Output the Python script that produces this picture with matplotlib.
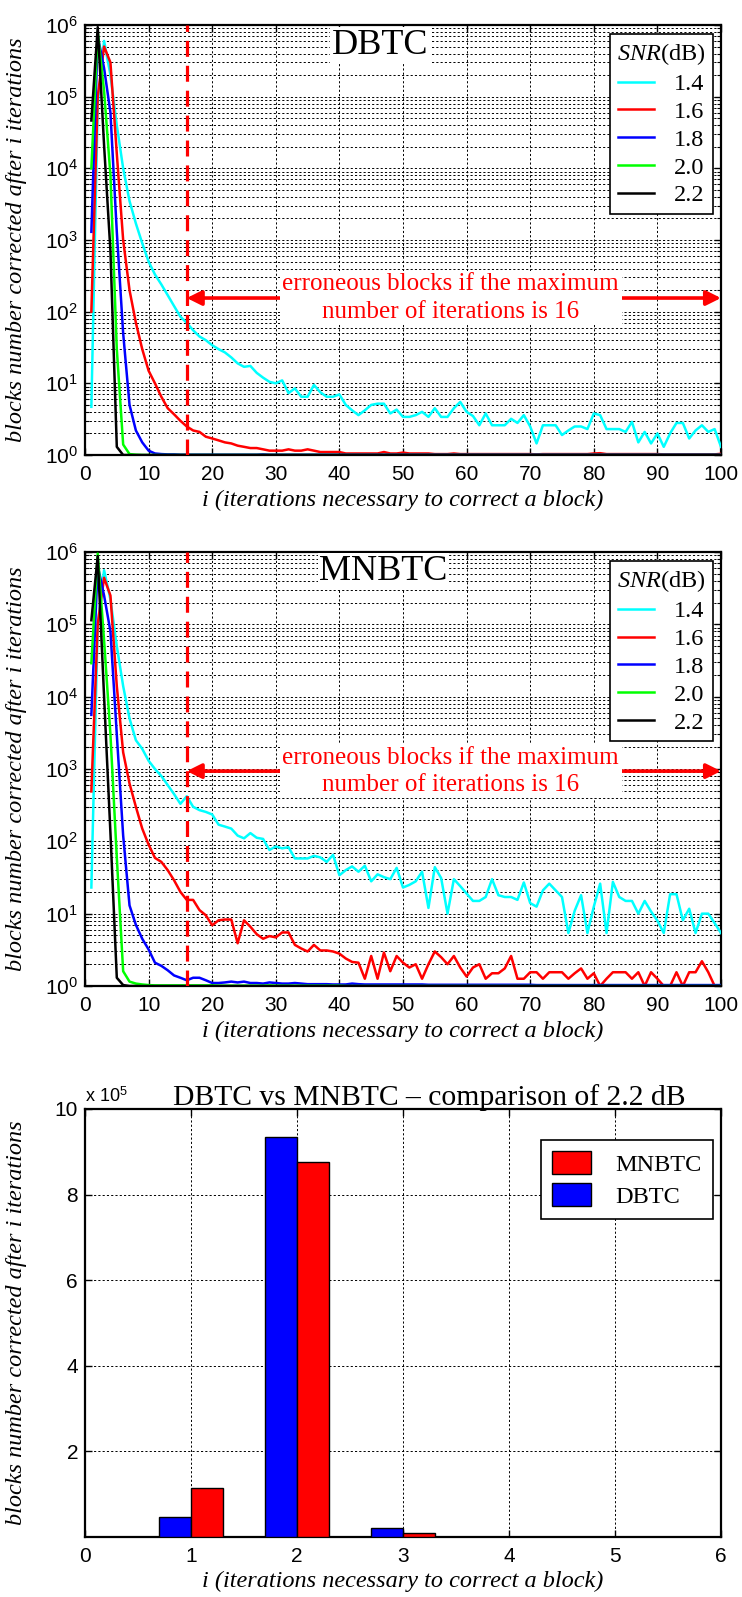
import numpy as np
import matplotlib
matplotlib.use("Agg")
import matplotlib.pyplot as plt
from matplotlib.ticker import LogLocator, NullFormatter, FixedLocator

plt.rcParams['font.family'] = ['Liberation Sans Narrow', 'Liberation Sans', 'DejaVu Sans']
plt.rcParams['mathtext.fontset'] = 'custom'
plt.rcParams['mathtext.rm'] = 'Liberation Sans'
plt.rcParams['mathtext.it'] = 'Liberation Serif:italic'
plt.rcParams['mathtext.bf'] = 'Liberation Sans:bold'

# ---------------- data ----------------
snr_labels = ['1.4', '1.6', '1.8', '2.0', '2.2']
snr_colors = ['#00ffff', '#ff0000', '#0000ff', '#00ff00', '#000000']

# DBTC: blocks corrected after i iterations, i = 1..100
dbtc_14 = [4.7, 8e4, 6e5, 2e5, 4e4, 1e4, 3.5e3, 1.7e3, 900, 500,
           330, 240, 170, 120, 85, 70, 55, 45, 40, 34,
           30, 27, 23, 19, 17, 17.5, 14, 12, 10.5, 10,
           11, 7.3, 8.5, 6.5, 6.5, 9.5, 7.5, 6.5, 6.5, 7,
           5, 4.2, 3.6, 4.2, 5, 5.2, 5.2, 3.8, 4.3, 3.4,
           3.4, 3.6, 4, 3.4, 4.5, 3.4, 3.4, 4.5, 5.5, 4,
           3.5, 2.6, 3.8, 2.6, 2.6, 2.6, 3.2, 2.8, 3.6, 2.5,
           1.45, 2.6, 2.6, 2.6, 1.9, 2.2, 2.5, 2.5, 2.3, 3.8,
           3.6, 2.3, 2.3, 2.3, 2.1, 2.9, 1.5, 2.1, 1.45, 2.0,
           1.3, 2.0, 2.8, 2.8, 1.7, 2.2, 2.6, 2.1, 2.3, 1.3]
dbtc_16 = [100, 1e5, 5e5, 3e5, 1.6e4, 1e3, 200, 70, 30, 15,
           10, 6.5, 4.5, 3.7, 3.0, 2.5, 2.2, 2.1, 1.8, 1.7,
           1.6, 1.5, 1.45, 1.35, 1.3, 1.25, 1.25, 1.2, 1.15, 1.15,
           1.15, 1.2, 1.15, 1.15, 1.2, 1.15, 1.1, 1.1, 1.1, 1.1,
           1.05, 1.05, 1.05, 1.05, 1.05, 1.05, 1.1, 1.05, 1.05, 1.08,
           1.05, 1.05, 1.05, 1.05, 1.03, 1.03, 1.03, 1.05, 1.03, 1.03,
           1.03, 1.03, 1.03, 1.03, 1.03, 1.03, 1.03, 1.03, 1.03, 1.03,
           1.02, 1.03, 1.03, 1.03, 1.03, 1.03, 1.03, 1.03, 1.03, 1.05,
           1.06, 1.03, 1.03, 1.03, 1.03, 1.03, 1.03, 1.03, 1.03, 1.03,
           1.02, 1.02, 1.02, 1.02, 1.02, 1.02, 1.02, 1.02, 1.02, 1.04]
dbtc_18 = [1.3e3, 7e5, 2.5e5, 6e4, 1.3e3, 50, 5, 2.2, 1.5, 1.15,
           1.05, 1.03, 1.02, 1.02, 1.01, 1.01, 1.01, 1.01, 1.01, 1.01,
           1.01, 1.01, 1.01, 1.01, 1.01, 1.01, 1.01, 1.02, 1.01, 1.01,
           1.01, 1.01, 1.01, 1.01, 1.01, 1.01, 1.01, 1.01, 1.01, 1.01,
           1.01, 1.01, 1.01, 1.01, 1.01, 1.01, 1.01, 1.01, 1.01, 1.01,
           1.01, 1.01, 1.01, 1.01, 1.01, 1.01, 1.01, 1.01, 1.01, 1.01,
           1.01, 1.01, 1.01, 1.01, 1.01, 1.01, 1.01, 1.01, 1.01, 1.01,
           1.01, 1.01, 1.01, 1.01, 1.01, 1.01, 1.01, 1.01, 1.01, 1.01,
           1.01, 1.01, 1.01, 1.01, 1.01, 1.01, 1.01, 1.01, 1.01, 1.01,
           1.01, 1.01, 1.01, 1.01, 1.01, 1.01, 1.01, 1.01, 1.01, 1.01]
dbtc_20 = [1e4, 8e5, 1.2e5, 8e3, 30, 1.4, 1.03, 1.01, 1.0, 1.0,
           1.0, 1.0, 1.0, 1.0, 1.0, 1.0, 1.0, 1.0, 1.0, 1.0,
           1.0, 1.0, 1.0, 1.0, 1.0, 1.0, 1.0, 1.0, 1.0, 1.0,
           1.0, 1.0, 1.0, 1.0, 1.0, 1.0, 1.0, 1.0, 1.0, 1.0,
           1.0, 1.0, 1.0, 1.0, 1.0, 1.0, 1.0, 1.0, 1.0, 1.0,
           1.0, 1.0, 1.0, 1.0, 1.0, 1.0, 1.0, 1.0, 1.0, 1.0,
           1.0, 1.0, 1.0, 1.0, 1.0, 1.0, 1.0, 1.0, 1.0, 1.0,
           1.0, 1.0, 1.0, 1.0, 1.0, 1.0, 1.0, 1.0, 1.0, 1.0,
           1.0, 1.0, 1.0, 1.0, 1.0, 1.0, 1.0, 1.0, 1.0, 1.0,
           1.0, 1.0, 1.0, 1.0, 1.0, 1.0, 1.0, 1.0, 1.0, 1.0]
dbtc_22 = [4.65e4, 9.35e5, 2.1e4, 700, 1.3, 1.0, 1.0, 1.0, 1.0, 1.0,
           1.0, 1.0, 1.0, 1.0, 1.0, 1.0, 1.0, 1.0, 1.0, 1.0,
           1.0, 1.0, 1.0, 1.0, 1.0, 1.0, 1.0, 1.0, 1.0, 1.0,
           1.0, 1.0, 1.0, 1.0, 1.0, 1.0, 1.0, 1.0, 1.0, 1.0,
           1.0, 1.0, 1.0, 1.0, 1.0, 1.0, 1.0, 1.0, 1.0, 1.0,
           1.0, 1.0, 1.0, 1.0, 1.0, 1.0, 1.0, 1.0, 1.0, 1.0,
           1.0, 1.0, 1.0, 1.0, 1.0, 1.0, 1.0, 1.0, 1.0, 1.0,
           1.0, 1.0, 1.0, 1.0, 1.0, 1.0, 1.0, 1.0, 1.0, 1.0,
           1.0, 1.0, 1.0, 1.0, 1.0, 1.0, 1.0, 1.0, 1.0, 1.0,
           1.0, 1.0, 1.0, 1.0, 1.0, 1.0, 1.0, 1.0, 1.0, 1.0]

# MNBTC
mnbtc_14 = [23, 1e5, 5.6e5, 2.2e5, 5e4, 1.4e4, 5e3, 2.5e3, 1.9e3, 1.3e3,
            1e3, 800, 600, 450, 330, 420, 300, 270, 255, 235,
            170, 160, 150, 120, 110, 130, 112, 108, 76, 85,
            80, 83, 58, 58, 58, 63, 60, 52, 65, 34,
            40, 45, 38, 46, 28, 35, 32, 30, 43, 23,
            25, 28, 38, 12, 44, 31, 10, 30, 24, 19,
            15, 15, 17, 30, 18, 17, 17, 15.5, 27, 14,
            12.5, 21, 26, 21, 17, 5.4, 11, 18, 5.4, 12.5,
            26, 5.4, 27.5, 17, 15, 15, 10, 15, 10.7, 8,
            5.4, 18.6, 18.6, 8.1, 11.7, 5.4, 10, 10, 7.4, 5.4]
mnbtc_16 = [490, 1e5, 4.4e5, 2.5e5, 1.4e4, 1.7e3, 630, 300, 150, 90,
            59, 52, 40, 29, 20, 15.5, 15.5, 11.2, 9.5, 6.9,
            8.1, 8.3, 8.3, 3.9, 8.1, 6.6, 5.2, 4.5, 4.9, 4.7,
            5.5, 5.5, 3.7, 3.3, 3.0, 3.7, 3.1, 3.1, 3.0, 2.8,
            2.4, 2.15, 2.1, 1.26, 2.6, 1.26, 2.9, 1.6, 2.6, 2.1,
            1.8, 2.0, 1.26, 2.0, 3.0, 2.5, 2.0, 2.6, 1.8, 1.35,
            1.8, 2.0, 1.26, 1.5, 1.5, 1.75, 2.6, 1.26, 1.26, 1.55,
            1.55, 1.26, 1.55, 1.55, 1.55, 1.26, 1.5, 1.75, 1.26, 1.5,
            1.0, 1.26, 1.55, 1.55, 1.55, 1.26, 1.55, 1.0, 1.55, 1.26,
            1.0, 1.0, 1.55, 1.0, 1.55, 1.55, 2.2, 1.55, 1.0, 1.0]
mnbtc_18 = [5.6e3, 6.5e5, 2.5e5, 8e4, 3e3, 120, 13, 7, 4.5, 3.2,
            2.1, 1.9, 1.65, 1.4, 1.3, 1.2, 1.3, 1.3, 1.2, 1.1,
            1.1, 1.12, 1.15, 1.12, 1.15, 1.1, 1.1, 1.08, 1.12, 1.1,
            1.08, 1.08, 1.1, 1.08, 1.06, 1.06, 1.06, 1.06, 1.05, 1.05,
            1.05, 1.08, 1.06, 1.05, 1.05, 1.05, 1.05, 1.05, 1.05, 1.05,
            1.05, 1.05, 1.05, 1.04, 1.04, 1.04, 1.04, 1.04, 1.04, 1.04,
            1.04, 1.04, 1.04, 1.04, 1.04, 1.04, 1.04, 1.04, 1.04, 1.04,
            1.03, 1.03, 1.03, 1.03, 1.03, 1.03, 1.03, 1.03, 1.03, 1.03,
            1.03, 1.03, 1.03, 1.03, 1.03, 1.03, 1.03, 1.03, 1.03, 1.03,
            1.03, 1.03, 1.03, 1.03, 1.03, 1.03, 1.03, 1.03, 1.03, 1.03]
mnbtc_20 = [2.9e4, 9.5e5, 6e4, 3e3, 60, 1.6, 1.15, 1.08, 1.05, 1.03,
            1.02, 1.02, 1.02, 1.02, 1.02, 1.02, 1.02, 1.02, 1.02, 1.02,
            1.01, 1.01, 1.01, 1.01, 1.01, 1.01, 1.01, 1.01, 1.02, 1.01,
            1.01, 1.01, 1.01, 1.01, 1.01, 1.01, 1.01, 1.01, 1.01, 1.01,
            1.0, 1.0, 1.0, 1.0, 1.0, 1.0, 1.0, 1.0, 1.0, 1.0,
            1.0, 1.0, 1.0, 1.0, 1.0, 1.0, 1.0, 1.0, 1.0, 1.0,
            1.0, 1.0, 1.0, 1.0, 1.0, 1.0, 1.0, 1.0, 1.0, 1.0,
            1.0, 1.0, 1.0, 1.0, 1.0, 1.0, 1.0, 1.0, 1.0, 1.0,
            1.0, 1.0, 1.0, 1.0, 1.0, 1.0, 1.0, 1.0, 1.0, 1.0,
            1.0, 1.0, 1.0, 1.0, 1.0, 1.0, 1.0, 1.0, 1.0, 1.0]
mnbtc_22 = [1.14e5, 8.77e5, 1e4, 130, 1.3, 1.03, 1.0, 1.0, 1.0, 1.0,
            1.0, 1.0, 1.0, 1.0, 1.0, 1.0, 1.0, 1.0, 1.0, 1.0,
            1.0, 1.0, 1.0, 1.0, 1.0, 1.0, 1.0, 1.0, 1.0, 1.0,
            1.0, 1.0, 1.0, 1.0, 1.0, 1.0, 1.0, 1.0, 1.0, 1.0,
            1.0, 1.0, 1.0, 1.0, 1.0, 1.0, 1.0, 1.0, 1.0, 1.0,
            1.0, 1.0, 1.0, 1.0, 1.0, 1.0, 1.0, 1.0, 1.0, 1.0,
            1.0, 1.0, 1.0, 1.0, 1.0, 1.0, 1.0, 1.0, 1.0, 1.0,
            1.0, 1.0, 1.0, 1.0, 1.0, 1.0, 1.0, 1.0, 1.0, 1.0,
            1.0, 1.0, 1.0, 1.0, 1.0, 1.0, 1.0, 1.0, 1.0, 1.0,
            1.0, 1.0, 1.0, 1.0, 1.0, 1.0, 1.0, 1.0, 1.0, 1.0]

# bar chart (2.2 dB), i = 1..6
bar_iters = [1, 2, 3, 4, 5, 6]
bar_dbtc = [46500, 935000, 21000, 700, 1.3, 1.0]
bar_mnbtc = [114000, 877000, 10000, 130, 1.3, 1.0]

max_iter_line = 16
annot_text = "erroneous blocks if the maximum\nnumber of iterations is 16"
ylab = "blocks number corrected after i iterations"
xlab = "i (iterations necessary to correct a block)"

SERIF = ['Liberation Serif', 'DejaVu Serif']

fig = plt.figure(figsize=(7.42, 15.97), dpi=100)
L, W = 85 / 742, 636 / 742
ax1 = fig.add_axes([L, 1 - 455 / 1597, W, 430 / 1597])
ax2 = fig.add_axes([L, 1 - 986 / 1597, W, 434 / 1597])
ax3 = fig.add_axes([L, 1 - 1537 / 1597, W, 428 / 1597])

grid_ls = (0, (2.2, 2.2))


def style_axes(ax):
    for s in ax.spines.values():
        s.set_linewidth(1.6)
    ax.tick_params(which='both', direction='in', top=True, right=True,
                   labelsize=15, pad=5)
    ax.tick_params(axis='x', pad=7)
    ax.tick_params(which='major', length=5, width=1)
    ax.tick_params(which='minor', length=3, width=0.8)


def line_panel(ax, series, title, arrow_y, title_xy):
    for vals, c, lab in zip(series, snr_colors, snr_labels):
        it = np.arange(1, len(vals) + 1)
        ax.plot(it, vals, color=c, lw=1.8, label=lab, zorder=3)
    ax.set_yscale('log')
    ax.set_xlim(0, 100)
    ax.set_ylim(1, 1e6)
    ax.set_xticks(np.arange(0, 101, 10))
    ax.yaxis.set_major_locator(LogLocator(base=10, numticks=10))
    ax.yaxis.set_minor_locator(LogLocator(base=10, subs=np.arange(2, 10), numticks=20))
    ax.yaxis.set_minor_formatter(NullFormatter())
    ax.grid(True, which='major', axis='x', color='k', ls=grid_ls, lw=0.7)
    ax.grid(True, which='both', axis='y', color='k', ls=grid_ls, lw=0.7)
    style_axes(ax)
    ax.axvline(max_iter_line, color='#ff0000', lw=2.3, ls=(0, (5, 2.8)), zorder=4)
    ap = dict(arrowstyle='-|>', color='#ff0000', lw=2.6, mutation_scale=22,
              shrinkA=0, shrinkB=0)
    ax.annotate('', xy=(max_iter_line, arrow_y), xytext=(31.3, arrow_y),
                arrowprops=ap, zorder=5)
    ax.annotate('', xy=(100, arrow_y), xytext=(84.3, arrow_y),
                arrowprops=ap, zorder=5)
    ax.text(57.5, arrow_y, annot_text, color='#ff0000', fontsize=18,
            family=SERIF, ha='center', va='center', linespacing=1.3,
            bbox=dict(facecolor='white', edgecolor='none', pad=2), zorder=6)
    ax.text(title_xy[0], title_xy[1], title, transform=ax.transAxes,
            fontsize=26, family=SERIF, ha='center', va='center',
            bbox=dict(facecolor='white', edgecolor='none', pad=1), zorder=6)
    leg = ax.legend(loc='upper right', bbox_to_anchor=(0.987, 0.979),
                    title=r'$\mathit{SNR}$(dB)', fancybox=False, framealpha=1,
                    edgecolor='k', prop=dict(family=SERIF, size=17.5),
                    title_fontproperties=dict(family=SERIF, size=17.5),
                    handlelength=1.5, handletextpad=0.8, labelspacing=0.24,
                    borderpad=0.3, borderaxespad=0)
    leg.get_frame().set_linewidth(1.2)
    leg.set_zorder(10)
    ax.set_ylabel(ylab, family=SERIF, style='italic', fontsize=17.5)
    ax.yaxis.set_label_coords(-0.091, 0.5)
    ax.set_xlabel(xlab, family=SERIF, style='italic', fontsize=17.5)


line_panel(ax1, [dbtc_14, dbtc_16, dbtc_18, dbtc_20, dbtc_22], 'DBTC', 155, (0.464, 0.953))
ax1.xaxis.set_label_coords(0.5, -0.080)
line_panel(ax2, [mnbtc_14, mnbtc_16, mnbtc_18, mnbtc_20, mnbtc_22], 'MNBTC', 935, (0.469, 0.956))
ax2.xaxis.set_label_coords(0.5, -0.080)

# ---------------- bar chart ----------------
bw = 0.3
bi = np.array(bar_iters, dtype=float)
ax3.bar(bi - bw / 2, np.array(bar_dbtc) / 1e5, width=bw, color='#0000ff',
        edgecolor='k', lw=1, label='DBTC', zorder=3)
ax3.bar(bi + bw / 2, np.array(bar_mnbtc) / 1e5, width=bw, color='#ff0000',
        edgecolor='k', lw=1, label='MNBTC', zorder=3)
ax3.set_xlim(0, 6)
ax3.set_ylim(0, 10)
ax3.set_xticks(np.arange(0, 7, 1))
ax3.yaxis.set_major_locator(FixedLocator([2, 4, 6, 8, 10]))
ax3.grid(True, which='major', color='k', ls=grid_ls, lw=0.7)
style_axes(ax3)
ax3.tick_params(which='minor', left=False, right=False, bottom=False, top=False)
ax3.text(0.0, 1.008, r'x 10$^{5}$', transform=ax3.transAxes, ha='left',
         va='bottom', fontsize=13)
ax3.set_title('DBTC vs MNBTC \u2013 comparison of 2.2 dB', family=SERIF,
              fontsize=21.3, pad=3, x=0.542)
h, lbl = ax3.get_legend_handles_labels()
leg3 = ax3.legend([h[1], h[0]], [lbl[1], lbl[0]], loc='upper right',
                  bbox_to_anchor=(0.987, 0.928), fancybox=False, framealpha=1,
                  edgecolor='k', prop=dict(family=SERIF, size=17.5),
                  handlelength=1.6, handleheight=1.1, handletextpad=1.0,
                  labelspacing=0.3, borderpad=0.45, borderaxespad=0)
leg3.get_frame().set_linewidth(1.2)
ax3.set_ylabel(ylab, family=SERIF, style='italic', fontsize=17.5)
ax3.yaxis.set_label_coords(-0.091, 0.5)
ax3.set_xlabel(xlab, family=SERIF, style='italic', fontsize=17.5)
ax3.xaxis.set_label_coords(0.5, -0.080)

fig.savefig('out.png', dpi=100)
